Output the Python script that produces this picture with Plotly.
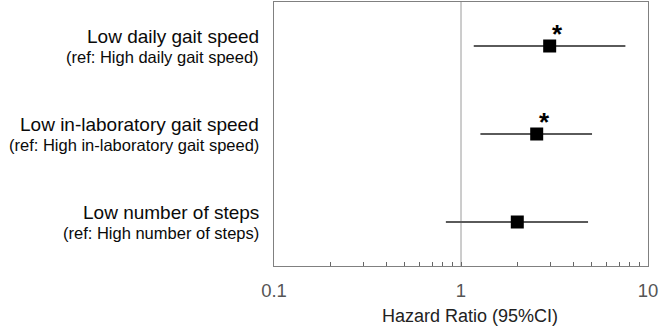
import math
import plotly.graph_objects as go

labels = ["Low daily gait speed", "Low in-laboratory gait speed", "Low number of steps"]
ref_labels = ["(ref: High daily gait speed)", "(ref: High in-laboratory gait speed)", "(ref: High number of steps)"]
hr = [2.98, 2.54, 2.0]
ci_low = [1.17, 1.27, 0.83]
ci_high = [7.57, 5.02, 4.78]
sig = ["*", "*", ""]
tick_vals = [0.1, 0.2, 0.3, 0.4, 0.5, 0.6, 0.7, 0.8, 0.9, 1, 2, 3, 4, 5, 6, 7, 8, 9, 10]
tick_text = ["0.1", "", "", "", "", "", "", "", "", "1", "", "", "", "", "", "", "", "", "10"]

ypos = list(range(len(labels)))
font = "Liberation Sans, Arial, sans-serif"

fig = go.Figure()
fig.add_trace(go.Scatter(
    x=hr, y=ypos, mode="markers",
    marker=dict(symbol="square", size=13, color="black"),
    error_x=dict(type="data", symmetric=False,
                 array=[h - m for h, m in zip(ci_high, hr)],
                 arrayminus=[m - l for m, l in zip(hr, ci_low)],
                 color="#5a5a5a", thickness=2, width=0),
    showlegend=False, hoverinfo="skip",
))

fig.add_shape(type="line", xref="x", yref="paper", x0=1, x1=1, y0=0, y1=1,
              line=dict(color="#9a9a9a", width=1), layer="below")

annotations = []
for i, (lab, ref) in enumerate(zip(labels, ref_labels)):
    annotations.append(dict(xref="paper", yref="y", x=0, y=i, xanchor="right", yanchor="middle",
                            xshift=-13, yshift=10, text=lab, showarrow=False,
                            font=dict(family=font, size=19, color="#0a0a0a")))
    annotations.append(dict(xref="paper", yref="y", x=0, y=i, xanchor="right", yanchor="middle",
                            xshift=-13, yshift=-11, text=ref, showarrow=False,
                            font=dict(family=font, size=16.5, color="#0a0a0a")))
for i, s in enumerate(sig):
    if s:
        annotations.append(dict(xref="x", yref="y", x=math.log10(hr[i]), y=i,
                                xshift=8, yshift=12, text="<b>" + s + "</b>", showarrow=False,
                                font=dict(family=font, size=26, color="black")))
annotations.append(dict(xref="paper", yref="paper", x=0.525, y=0, yshift=-50, xanchor="center",
                        yanchor="middle", text="Hazard Ratio (95%CI)", showarrow=False,
                        font=dict(family=font, size=18, color="#222222")))
fig.update_layout(annotations=annotations)

fig.update_xaxes(type="log", range=[-1, 1], tickvals=tick_vals, ticktext=tick_text,
                 ticks="inside", ticklen=4, tickcolor="#666666", tickwidth=1,
                 showgrid=False, zeroline=False, automargin=False,
                 showline=True, linecolor="#808080", linewidth=1, mirror=True,
                 tickfont=dict(family=font, size=18.5, color="#555555"),
                 ticklabelstandoff=8)
fig.update_yaxes(range=[2.5, -0.5], showticklabels=False, ticks="", showgrid=False, zeroline=False,
                 automargin=False,
                 showline=True, linecolor="#808080", linewidth=1, mirror=True)

fig.update_layout(width=660, height=330, margin=dict(l=274, r=12, t=2, b=64),
                  plot_bgcolor="white", paper_bgcolor="white",
                  font=dict(family=font))
fig.write_html("out.html", config={"displayModeBar": False},
               post_script="document.body.style.margin='0';document.body.style.overflow='hidden';")
